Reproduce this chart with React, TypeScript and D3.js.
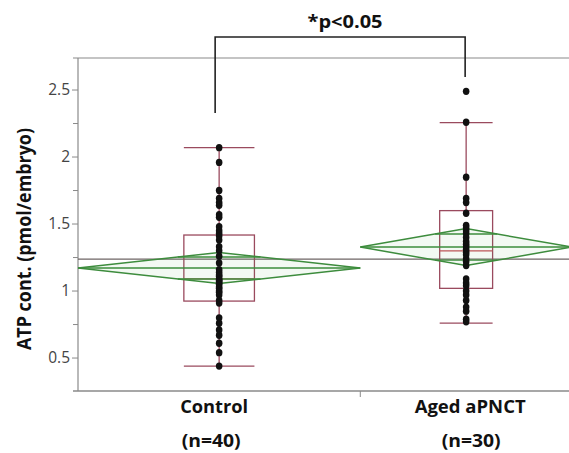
import React from "react";
import * as d3 from "d3";

// ---- data ----
const groups = ["Control", "Aged aPNCT"];
const groupN = [40, 30];
const nLabels = ["(n=40)", "(n=30)"];

const controlValues = [
  2.07, 1.96, 1.75, 1.69, 1.66, 1.64, 1.57, 1.55, 1.48, 1.45,
  1.43, 1.41, 1.38, 1.33, 1.30, 1.26, 1.21, 1.16, 1.14, 1.12,
  1.11, 1.09, 1.08, 1.07, 1.06, 1.05, 1.03, 1.02, 1.00, 0.99,
  0.97, 0.93, 0.91, 0.80, 0.76, 0.71, 0.67, 0.61, 0.54, 0.44,
];
const agedValues = [
  2.49, 2.26, 1.85, 1.69, 1.66, 1.58, 1.49, 1.47, 1.45, 1.43,
  1.40, 1.37, 1.35, 1.33, 1.31, 1.29, 1.27, 1.24, 1.22, 1.19,
  1.09, 1.06, 1.04, 1.00, 0.97, 0.93, 0.88, 0.85, 0.79, 0.77,
];

const means = [1.172, 1.328];
const ciHalf = [0.116, 0.138];
const q1 = [0.925, 1.02];
const medians = [1.09, 1.30];
const q3 = [1.418, 1.60];
const whiskerLow = [0.44, 0.76];
const whiskerHigh = [2.07, 2.256];

const majorTicks = [0.5, 1, 1.5, 2, 2.5];
const minorTicks = [0.75, 1.25, 1.75, 2.25];
const yDomain = [0.254, 2.739];

const yTitle = "ATP cont. (pmol/embryo)";
const sigLabel = "*p<0.05";

// ---- layout ----
const W = 569;
const H = 453;
const left = 78;
const right = 572;
const top = 58;
const bottom = 391;

const BOX_COLOR = "#9a4a5e";
const MEDIAN_COLOR = "#c4505a";
const DIAMOND_COLOR = "#3d8c3d";
const GRAND_COLOR = "#6e6464";
const AXIS_COLOR = "#8a8a8a";

export default function App() {
  const totalN = d3.sum(groupN);
  const x = d3.scaleLinear().domain([0, totalN]).range([left, right]);
  const y = d3.scaleLinear().domain(yDomain).range([bottom, top]);

  const starts = groupN.map((_, i) => d3.sum(groupN.slice(0, i)));
  const centers = groupN.map((n, i) => x(starts[i] + n / 2));
  const values = [controlValues, agedValues];

  const grandMean = d3.sum(means.map((m, i) => m * groupN[i])) / totalN;

  const font = "'Open Sans', 'DejaVu Sans', sans-serif";

  return (
    <svg width={W} height={H} style={{ display: "block", position: "absolute", left: 0, top: 0, background: "#fff" }}>
      <rect x={0} y={0} width={W} height={H} fill="#fff" />

      {/* frame */}
      <line x1={73} x2={W} y1={top} y2={top} stroke={AXIS_COLOR} strokeWidth={1.2} />
      <line x1={left} x2={left} y1={top} y2={bottom} stroke={AXIS_COLOR} strokeWidth={1.2} />
      <line x1={73} x2={W} y1={bottom} y2={bottom} stroke={AXIS_COLOR} strokeWidth={1.4} />
      <line x1={x(starts[1])} x2={x(starts[1])} y1={bottom} y2={bottom + 6} stroke={AXIS_COLOR} strokeWidth={1} />

      {/* y ticks */}
      {majorTicks.map((t) => (
        <g key={"M" + t}>
          <line x1={left - 6} x2={left} y1={y(t)} y2={y(t)} stroke={AXIS_COLOR} strokeWidth={1} />
          <text x={left - 8} y={y(t)} dy="0.35em" textAnchor="end" fontFamily={font} fontSize={15.5} fill="#444">
            {String(t)}
          </text>
        </g>
      ))}
      {minorTicks.map((t) => (
        <line key={"m" + t} x1={left - 5} x2={left} y1={y(t)} y2={y(t)} stroke={AXIS_COLOR} strokeWidth={1} />
      ))}

      {/* y title */}
      <text
        transform={`translate(31, ${239}) rotate(-90)`}
        textAnchor="middle"
        fontFamily={font}
        fontWeight={700}
        fontSize={20}
        fill="#111"
        textLength={222}
        lengthAdjust="spacingAndGlyphs"
      >
        {yTitle}
      </text>

      {/* grand mean line */}
      <line x1={left} x2={W} y1={y(grandMean)} y2={y(grandMean)} stroke={GRAND_COLOR} strokeWidth={1.3} />

      {/* boxes, whiskers */}
      {groups.map((g, i) => {
        const cx = centers[i];
        const bw = x(groupN[i] * 0.25) - x(0);
        const x0 = cx - bw / 2;
        return (
          <g key={"box" + g}>
            <line x1={cx} x2={cx} y1={y(whiskerHigh[i])} y2={y(q3[i])} stroke={BOX_COLOR} strokeWidth={1.3} />
            <line x1={cx} x2={cx} y1={y(q1[i])} y2={y(whiskerLow[i])} stroke={BOX_COLOR} strokeWidth={1.3} />
            <line x1={x0} x2={x0 + bw} y1={y(whiskerHigh[i])} y2={y(whiskerHigh[i])} stroke={BOX_COLOR} strokeWidth={1.3} />
            <line x1={x0} x2={x0 + bw} y1={y(whiskerLow[i])} y2={y(whiskerLow[i])} stroke={BOX_COLOR} strokeWidth={1.3} />
            <rect x={x0} y={y(q3[i])} width={bw} height={y(q1[i]) - y(q3[i])} fill="none" stroke={BOX_COLOR} strokeWidth={1.3} />
            <line x1={x0} x2={x0 + bw} y1={y(medians[i])} y2={y(medians[i])} stroke={MEDIAN_COLOR} strokeWidth={1.3} />
          </g>
        );
      })}

      {/* means diamonds */}
      {groups.map((g, i) => {
        const xl = x(starts[i]);
        const xr = x(starts[i] + groupN[i]);
        const cx = (xl + xr) / 2;
        const half = (xr - xl) / 2;
        const ym = y(means[i]);
        const yt = y(means[i] + ciHalf[i]);
        const yb = y(means[i] - ciHalf[i]);
        const path = d3.path();
        path.moveTo(xl, ym);
        path.lineTo(cx, yt);
        path.lineTo(xr, ym);
        path.lineTo(cx, yb);
        path.closePath();
        const ov = ciHalf[i] / Math.SQRT2;
        const ovHalf = half * (1 - 1 / Math.SQRT2);
        return (
          <g key={"dia" + g}>
            <path d={path.toString()} fill="rgba(80,170,90,0.07)" stroke={DIAMOND_COLOR} strokeWidth={1.5} />
            <line x1={xl} x2={xr} y1={ym} y2={ym} stroke={DIAMOND_COLOR} strokeWidth={1.5} />
            <line x1={cx - ovHalf} x2={cx + ovHalf} y1={y(means[i] + ov)} y2={y(means[i] + ov)} stroke={DIAMOND_COLOR} strokeWidth={1.4} />
            <line x1={cx - ovHalf} x2={cx + ovHalf} y1={y(means[i] - ov)} y2={y(means[i] - ov)} stroke={DIAMOND_COLOR} strokeWidth={1.4} />
          </g>
        );
      })}

      {/* points */}
      {groups.map((g, i) => (
        <g key={"pts" + g}>
          {values[i].map((v, j) => (
            <ellipse key={j} cx={centers[i]} cy={y(v)} rx={3.3} ry={3.7} fill="#111" />
          ))}
        </g>
      ))}

      {/* category labels */}
      {groups.map((g, i) => (
        <g key={"lab" + g}>
          <text x={centers[i] + (i === 0 ? -5 : 4)} y={413} textAnchor="middle" fontFamily={font} fontWeight={700} fontSize={18.5} fill="#111"
            textLength={i === 0 ? 68 : 111} lengthAdjust="spacingAndGlyphs">
            {g}
          </text>
          <text x={centers[i] + (i === 0 ? -8 : 5)} y={447} textAnchor="middle" fontFamily={font} fontWeight={700} fontSize={18.5} fill="#111"
            textLength={59} lengthAdjust="spacingAndGlyphs">
            {nLabels[i]}
          </text>
        </g>
      ))}

      {/* significance bracket */}
      <path
        d={`M${centers[0] - 4},113 V37 H${centers[1] - 1} V77`}
        fill="none"
        stroke="#222"
        strokeWidth={1.6}
      />
      <text x={345} y={28} textAnchor="middle" fontFamily={font} fontWeight={700} fontSize={18} fill="#111"
        textLength={75} lengthAdjust="spacingAndGlyphs">
        {sigLabel}
      </text>
    </svg>
  );
}
